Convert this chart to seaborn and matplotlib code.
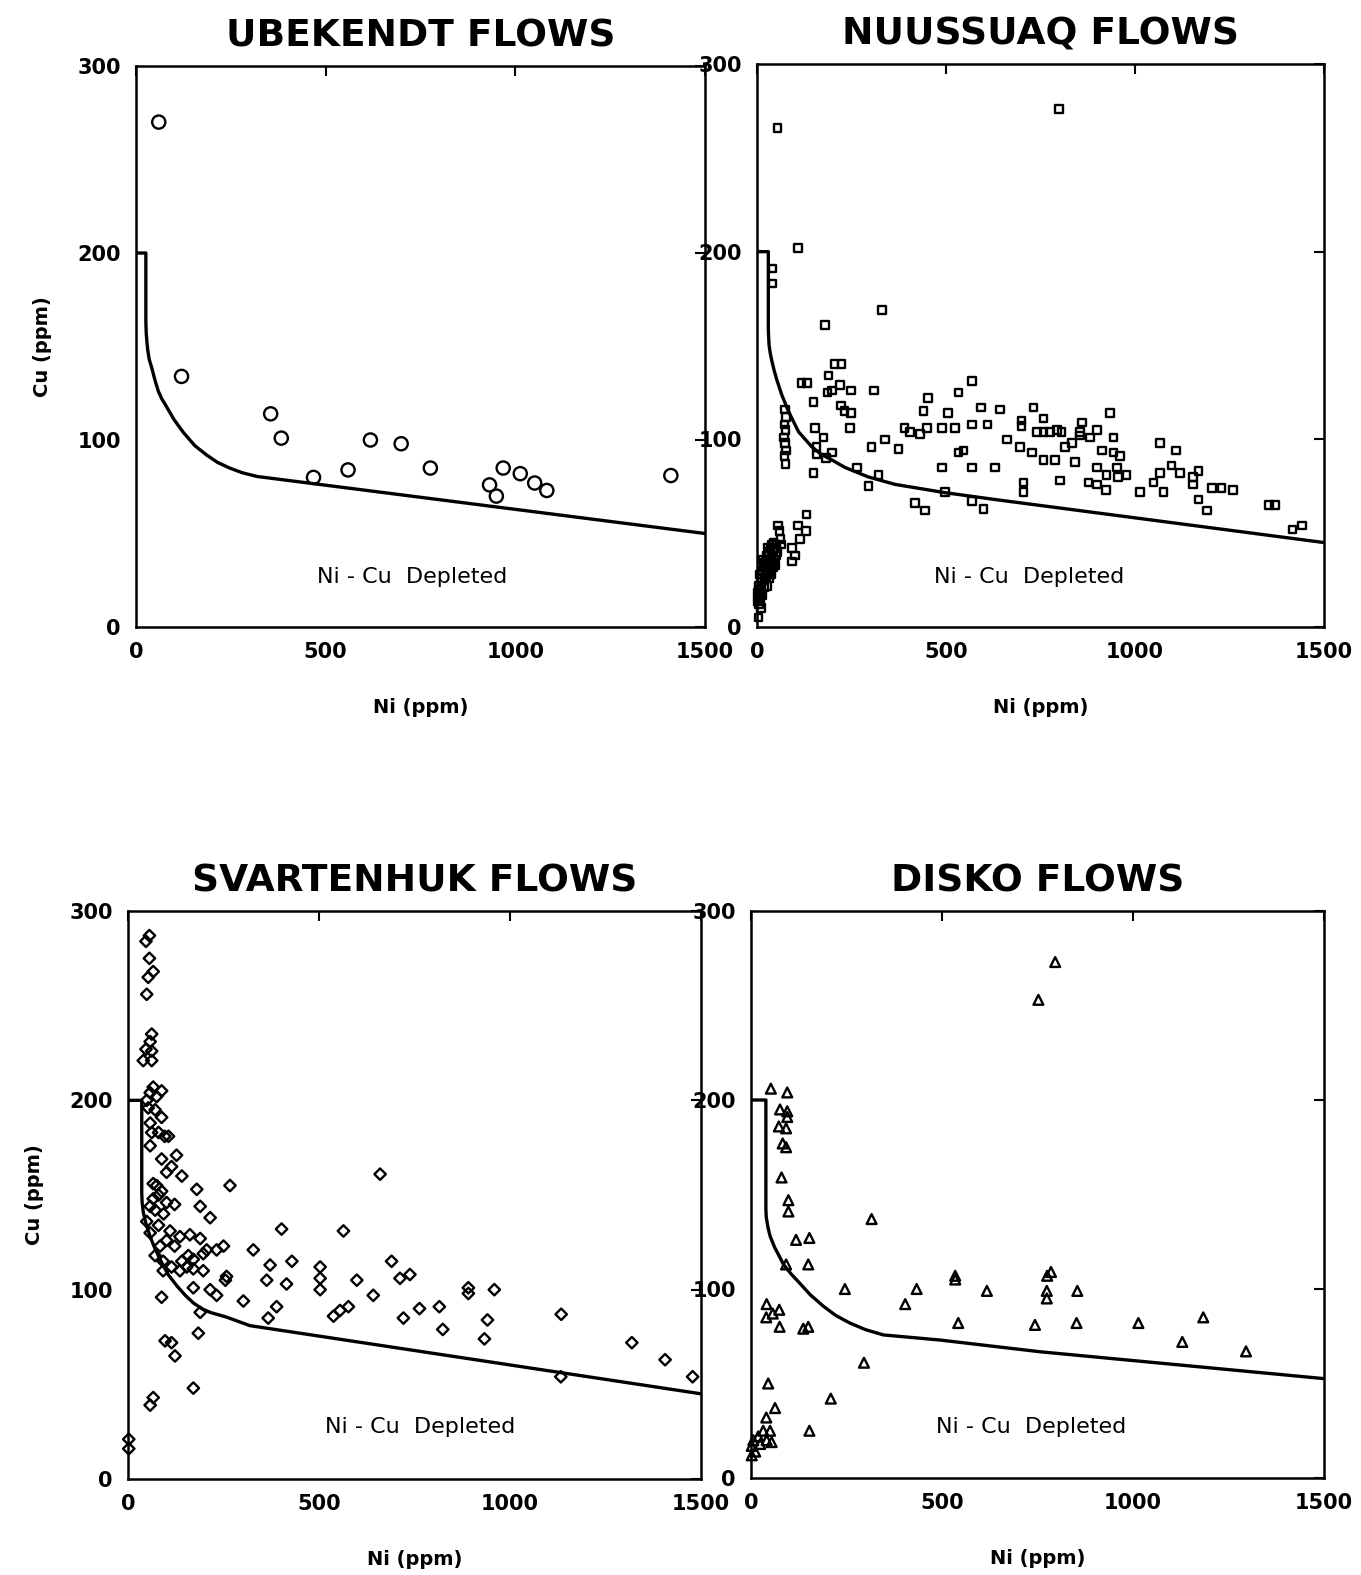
import numpy as np
import pandas as pd
import matplotlib
matplotlib.use("Agg")
import matplotlib.pyplot as plt
import seaborn as sns

# ---------------- data ----------------
ube_ni = [60, 120, 355, 383, 468, 559, 618, 699, 776, 932, 950, 968, 1013, 1051, 1083, 1410]
ube_cu = [270, 134, 114, 101, 80, 84, 100, 98, 85, 76, 70, 85, 82, 77, 73, 81]

nuu_ni = [54, 109, 41, 41, 331, 180, 799,
          205, 224, 118, 132, 189, 220, 249, 187, 199, 222, 232, 249, 246,
          149, 310, 452, 533, 568, 593, 643,
          390, 405, 431, 449, 489, 524, 568, 610, 440, 506,
          153, 176, 157, 157, 199, 183, 149, 303, 339, 374, 265, 295, 321, 489, 533, 546, 568, 630, 497, 418, 444, 568, 599,
          74, 76, 73, 75, 72, 74, 76, 73, 75,
          131, 109, 129, 114, 92, 100, 92,
          56, 60, 62, 65, 4,
          5, 8, 3, 10, 6, 12, 15, 18, 9, 14, 20, 22, 25, 17, 28, 30, 24, 33, 35, 38, 40, 27, 32, 42, 45, 47, 50, 36, 52, 44,
          20, 12, 7, 16, 4, 10, 2, 26, 31, 37, 43, 48, 54, 40, 29,
          731, 700, 700, 758, 740, 758, 775, 793, 806, 859, 855, 661, 696, 727, 758, 788, 815, 833, 855, 881, 899, 934,
          943, 912, 943, 960, 841, 802, 705, 705, 899, 925, 952, 978, 955, 877, 899, 923, 1013, 1049, 1066, 1075, 1066,
          1109, 1097, 1119, 1154, 1168, 1154, 1203, 1229, 1260, 1168, 1190, 1355, 1370, 1441, 1417]
nuu_cu = [266, 202, 191, 183, 169, 161, 276,
          140, 140, 130, 130, 134, 129, 126, 125, 126, 118, 115, 114, 106,
          120, 126, 122, 125, 131, 117, 116,
          106, 104, 103, 106, 106, 106, 108, 108, 115, 114,
          106, 101, 96, 92, 93, 90, 82, 96, 100, 95, 85, 75, 81, 85, 93, 94, 85, 85, 72, 66, 62, 67, 63,
          116, 112, 108, 105, 101, 98, 94, 91, 87,
          60, 54, 51, 47, 42, 38, 35,
          54, 51, 47, 44, 5,
          12, 15, 18, 20, 22, 24, 17, 21, 26, 28, 25, 30, 27, 32, 33, 29, 35, 36, 31, 38, 34, 38, 40, 40, 36, 42, 38, 42, 44, 45,
          34, 30, 28, 36, 20, 10, 14, 22, 26, 28, 32, 33, 40, 44, 42,
          117, 110, 107, 111, 104, 104, 104, 105, 104, 109, 104, 100, 96, 93, 89, 89, 96, 98, 102, 101, 105, 114,
          101, 94, 93, 91, 88, 78, 77, 72, 85, 81, 85, 81, 80, 77, 76, 73, 72, 77, 82, 72, 98,
          94, 86, 82, 80, 83, 76, 74, 74, 73, 68, 62, 65, 65, 54, 52]

sva_ni = [56, 47, 56, 66, 53, 49,
          62, 58, 47, 62, 40, 62,
          66, 88, 58, 49, 75,
          53, 71, 88,
          58, 62, 80, 106, 58, 96,
          88, 127, 114, 141, 101,
          66, 75, 88, 66, 80, 101, 122, 58, 71, 93,
          180, 267, 189, 215,
          49, 80, 110, 58, 101, 84, 136, 162, 189, 122, 158,
          71, 92, 141, 171, 197, 206, 232, 250,
          92, 114, 136, 154, 171,
          197, 258, 255,
          328, 402, 564, 660,
          88, 171, 215, 232, 189, 184, 302,
          372, 363, 429, 415, 389, 367,
          503, 503, 503, 599, 538, 555, 577, 642, 690, 721, 712, 738,
          97, 123, 114, 171, 58, 66, 2, 2,
          763, 815, 824, 891, 891, 959, 941, 933, 1134, 1133, 1319, 1406, 1478]
sva_cu = [287, 284, 275, 268, 265, 256,
          235, 231, 227, 226, 221, 221,
          207, 205, 204, 200, 202,
          196, 195, 191,
          188, 183, 183, 181, 176, 181,
          169, 171, 165, 160, 162,
          156, 155, 152, 148, 150, 146, 145, 144, 142, 140,
          153, 155, 144, 138,
          136, 134, 131, 130, 126, 123, 128, 129, 127, 123, 118,
          118, 115, 115, 116, 119, 121, 121, 123,
          110, 112, 110, 112, 111,
          110, 107, 105,
          121, 132, 131, 161,
          96, 101, 100, 97, 88, 77, 94,
          113, 105, 115, 103, 91, 85,
          112, 106, 100, 105, 86, 89, 91, 97, 115, 85, 106, 108,
          73, 65, 72, 48, 39, 43, 21, 16,
          90, 91, 79, 101, 98, 100, 84, 74, 87, 54, 72, 63, 54]

dis_ni = [52, 95, 76, 95, 95, 73, 92, 83, 92, 80, 98, 98, 316, 118, 153, 92, 150, 246, 434, 535, 535, 618, 404,
          543, 744, 41, 74, 57, 40, 75, 137, 150, 296, 45, 209, 63, 40, 153, 50, 32, 19, 6, 41, 24, 2, 11, 2, 54,
          797, 753, 786, 776, 775, 775, 855, 853, 1015, 1185, 1130, 1297]
dis_cu = [206, 204, 195, 194, 191, 186, 185, 177, 175, 159, 147, 141, 137, 126, 127, 113, 113, 100, 100, 107, 105, 99, 92,
          82, 81, 92, 89, 87, 85, 80, 79, 80, 61, 50, 42, 37, 32, 25, 25, 25, 22, 20, 20, 18, 17, 14, 12, 19,
          273, 253, 109, 107, 99, 95, 99, 82, 82, 85, 72, 67]

# depletion boundary curves
ube_line_ni = [0, 26, 26, 27, 29, 31, 35, 41, 50, 59, 68, 77, 100, 125, 155, 186, 215, 247, 280, 319, 1500]
ube_line_cu = [200, 200, 163, 157, 152, 148, 143, 139, 132, 126, 122, 119, 111, 104, 97, 92, 88, 85, 82.5, 80.5, 50]
nuu_line_ni = [0, 30, 30, 31, 32, 35, 39, 45, 52, 65, 83, 110, 145, 170, 198, 233, 294, 365, 497, 638, 1500]
nuu_line_cu = [200, 200, 158, 154, 150, 146, 142, 137, 132, 124, 115, 104, 96, 92, 89, 85, 80, 76, 71.6, 67.7, 45]
sva_line_ni = [0, 36, 36, 37, 40, 47, 58, 70, 84, 105, 128, 150, 171, 193, 215, 258, 319, 1500]
sva_line_cu = [200, 200, 151, 146, 141, 135, 128, 122, 116, 108, 102, 97, 93, 90, 88, 85.5, 81, 45]
dis_line_ni = [0, 39, 39, 40, 44, 50, 62, 75, 85, 105, 128, 155, 189, 222, 259, 300, 347, 495, 757, 1500]
dis_line_cu = [200, 200, 142, 138, 133, 128, 122, 117, 113, 108, 103, 97, 91, 86, 82, 78.5, 75.7, 73, 66.8, 52.6]

titles = ["UBEKENDT FLOWS", "NUUSSUAQ FLOWS", "SVARTENHUK FLOWS", "DISKO FLOWS"]
x_ticks = [0, 500, 1000, 1500]
y_ticks = [0, 100, 200, 300]
label_text = "Ni - Cu  Depleted"

# ---------------- style ----------------
sns.set_style("white")
plt.rcParams["font.family"] = ["DejaVu Sans"]
for key in ["text.color", "axes.labelcolor", "xtick.color", "ytick.color", "axes.edgecolor"]:
    plt.rcParams[key] = "black"

fig = plt.figure(figsize=(13.61, 15.75), dpi=100)

W, H = 1361.0, 1575.0
# pixel boxes: left, right, top, bottom
boxes = [(136, 705, 66, 627), (757, 1324, 64, 627), (128, 701, 911, 1479), (751, 1323.5, 911, 1478)]
panels = [
    (ube_ni, ube_cu, ube_line_ni, ube_line_cu, "o", 90, (0.486, 0.09)),
    (nuu_ni, nuu_cu, nuu_line_ni, nuu_line_cu, "s", 30, (0.48, 0.088)),
    (sva_ni, sva_cu, sva_line_ni, sva_line_cu, "D", 34, (0.51, 0.092)),
    (dis_ni, dis_cu, dis_line_ni, dis_line_cu, "^", 50, (0.49, 0.09)),
]

for i, ((l, r, t, b), (pni, pcu, lni, lcu, mk, sz, tpos)) in enumerate(zip(boxes, panels)):
    ax = fig.add_axes([l / W, (H - b) / H, (r - l) / W, (b - t) / H])
    pts = pd.DataFrame({"Ni": pni, "Cu": pcu})
    crv = pd.DataFrame({"Ni": lni, "Cu": lcu})
    sns.lineplot(data=crv, x="Ni", y="Cu", sort=False, estimator=None, color="black",
                 linewidth=2.4, ax=ax)
    sns.scatterplot(data=pts, x="Ni", y="Cu", marker=mk, s=sz, facecolors="none",
                    edgecolors="black", linewidths=1.7, ax=ax, clip_on=False, zorder=3)
    ax.set_xlim(0, 1500)
    ax.set_ylim(0, 300)
    ax.set_xticks(x_ticks)
    ax.set_yticks(y_ticks)
    ax.set_xticklabels([str(v) for v in x_ticks], fontweight="heavy", fontsize=15)
    ax.set_yticklabels([str(v) for v in y_ticks], fontweight="heavy", fontsize=15)
    ax.tick_params(direction="in", top=True, right=True, length=7, width=1.5, color="black")
    ax.tick_params(axis="x", pad=11)
    ax.tick_params(axis="y", pad=11)
    for sp in ax.spines.values():
        sp.set_visible(True)
        sp.set_color("black")
        sp.set_linewidth(1.8)
    ax.set_xlabel("Ni (ppm)", fontweight="bold", fontsize=14, labelpad=26)
    if i % 2 == 0:
        ax.set_ylabel("Cu (ppm)", fontweight="bold", fontsize=14, labelpad=18)
    else:
        ax.set_ylabel("")
    ax.set_title(titles[i], fontweight="bold", fontsize=27, pad=14)
    ax.text(tpos[0], tpos[1], label_text, transform=ax.transAxes, ha="center", va="center",
            fontsize=16)
    ax.grid(False)

fig.savefig("out.png", dpi=100, facecolor="white")
